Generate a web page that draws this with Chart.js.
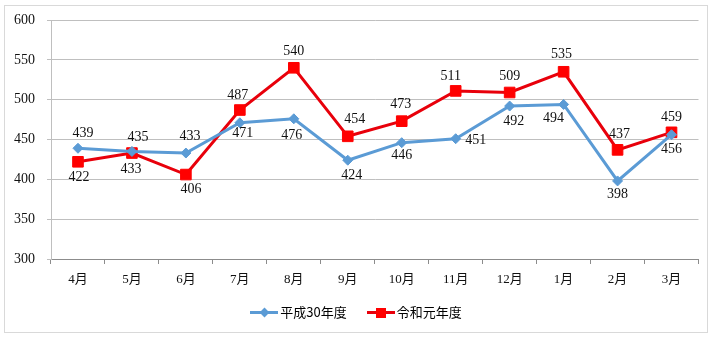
<!DOCTYPE html>
<html>
<head>
<meta charset="utf-8">
<script src="https://cdn.jsdelivr.net/npm/chart.js@4"></script>
<style>
  body { margin: 0; background: #fff; }
  #frame { position: absolute; left: 4px; top: 5px; width: 702px; height: 326px; border: 1px solid #d9d9d9; }
  #wrap { position: absolute; left: 0; top: 0; width: 702px; height: 326px; }
  #legend { position: absolute; left: 0; right: 0; top: 297px; display: flex; justify-content: center; gap: 20px;
    font: 13px 'Noto Sans CJK JP', sans-serif; color: #000; line-height: 18px; }
  .item { display: flex; align-items: center; gap: 2px; }
  .sw { position: relative; width: 28px; height: 12px; }
  .sw::before { content: ''; position: absolute; left: 0; top: 5px; width: 28px; height: 3px; }
  .sw::after { content: ''; position: absolute; }
  .blue::before { background: #5b9bd5; }
  .blue::after { background: #5b9bd5; width: 7px; height: 7px; left: 10.5px; top: 3px; transform: rotate(45deg); }
  .red::before { background: #e8000b; }
  .red::after { background: #ff0000; width: 10px; height: 10px; left: 9px; top: 1.5px; }
</style>
</head>
<body>
<div id="frame">
  <div id="wrap"><canvas id="chart"></canvas></div>
  <div id="legend">
    <div class="item"><span class="sw blue"></span><span id="lg0"></span></div>
    <div class="item"><span class="sw red"></span><span id="lg1"></span></div>
  </div>
</div>
<script>
const months = ['4月', '5月', '6月', '7月', '8月', '9月', '10月', '11月', '12月', '1月', '2月', '3月'];
const seriesNames = ['平成30年度', '令和元年度'];
const h30 = [439, 435, 433, 471, 476, 424, 446, 451, 492, 494, 398, 456];
const r1 = [422, 433, 406, 487, 540, 454, 473, 511, 509, 535, 437, 459];
const yTicks = { min: 300, max: 600, step: 50 };

// label offsets from each point (px), like the hand-placed labels in the original
const labelOffsets = [
  [[5, -15], [6, -14], [4, -17], [3, 11], [-2, 17], [4, 15], [0, 13], [20, 2], [4, 15], [-10, 14], [0, 13], [0, 15]],
  [[1, 16], [-1, 16], [5, 15], [-2, -15], [0, -16], [7, -17], [-1, -17], [-5, -15], [0, -16], [-2, -17], [2, -16], [0, -15]]
];

document.getElementById('lg0').textContent = seriesNames[0];
document.getElementById('lg1').textContent = seriesNames[1];

const valueLabels = {
  id: 'valueLabels',
  afterDatasetsDraw(chart) {
    const ctx = chart.ctx;
    ctx.save();
    ctx.font = "14px 'Liberation Serif', serif";
    ctx.fillStyle = '#111';
    ctx.textAlign = 'center';
    ctx.textBaseline = 'middle';
    chart.data.datasets.forEach((ds, di) => {
      chart.getDatasetMeta(di).data.forEach((pt, i) => {
        const [dx, dy] = labelOffsets[di][i];
        ctx.fillText(String(ds.data[i]), pt.x + dx, pt.y + dy);
      });
    });
    ctx.restore();
  }
};

new Chart(document.getElementById('chart'), {
  type: 'line',
  data: {
    labels: months,
    datasets: [
      {
        label: seriesNames[0], data: h30,
        borderColor: '#5b9bd5', borderWidth: 3,
        pointStyle: 'rectRot', pointRadius: 5, pointBackgroundColor: '#5b9bd5', pointBorderColor: '#5b9bd5', pointBorderWidth: 1,
        tension: 0
      },
      {
        label: seriesNames[1], data: r1,
        borderColor: '#e8000b', borderWidth: 3,
        pointStyle: 'rect', pointRadius: 7.5, pointBackgroundColor: '#ff0000', pointBorderColor: '#ff0000', pointBorderWidth: 1,
        tension: 0
      }
    ]
  },
  options: {
    responsive: true,
    maintainAspectRatio: false,
    animation: false,
    layout: { padding: { top: 14, right: 7, left: 0, bottom: 0 } },
    plugins: { legend: { display: false }, tooltip: { enabled: false } },
    scales: {
      x: {
        offset: true,
        afterFit(scale) { scale.height = 73; scale.paddingLeft = 0; scale.paddingRight = 0; },
        grid: { offset: true, drawOnChartArea: false, drawTicks: true, tickLength: 5, color: '#8c8c8c' },
        border: { color: '#8c8c8c' },
        ticks: { padding: 8, color: '#111', font: { size: 13, family: "'Liberation Serif', 'Noto Sans CJK JP'" } }
      },
      y: {
        min: yTicks.min, max: yTicks.max,
        afterFit(scale) { scale.width = 46; scale.paddingTop = 0; scale.paddingBottom = 0; },
        grid: { color: '#bfbfbf', tickLength: 4 },
        border: { color: '#bfbfbf' },
        ticks: { stepSize: yTicks.step, padding: 12, color: '#111', font: { size: 14, family: "'Liberation Serif', serif" } }
      }
    }
  },
  plugins: [valueLabels]
});
</script>
</body>
</html>
